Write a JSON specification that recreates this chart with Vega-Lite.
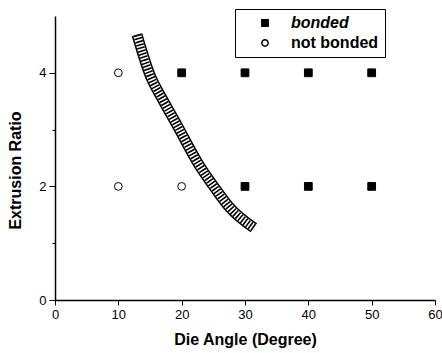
{
  "$schema": "https://vega.github.io/schema/vega-lite/v6.json",
  "width": 380,
  "height": 284,
  "autosize": {"type": "none"},
  "padding": {"left": 55, "top": 16, "right": 7, "bottom": 53},
  "background": "white",
  "config": {
    "view": {"stroke": null},
    "font": "Liberation Sans",
    "axis": {
      "grid": false,
      "domainColor": "black",
      "domainWidth": 1.5,
      "tickColor": "black",
      "tickWidth": 1,
      "labelColor": "black",
      "labelFont": "Liberation Sans",
      "labelFontSize": 13,
      "titleFont": "Liberation Sans",
      "titleFontSize": 16,
      "titleFontWeight": "bold",
      "titleColor": "black"
    }
  },
  "datasets": {
    "points": [
      {"angle": 10, "ratio": 4, "status": "not bonded"},
      {"angle": 10, "ratio": 2, "status": "not bonded"},
      {"angle": 20, "ratio": 2, "status": "not bonded"},
      {"angle": 20, "ratio": 4, "status": "bonded"},
      {"angle": 30, "ratio": 4, "status": "bonded"},
      {"angle": 40, "ratio": 4, "status": "bonded"},
      {"angle": 50, "ratio": 4, "status": "bonded"},
      {"angle": 30, "ratio": 2, "status": "bonded"},
      {"angle": 40, "ratio": 2, "status": "bonded"},
      {"angle": 50, "ratio": 2, "status": "bonded"}
    ],
    "band": [
      {"angle": 12.95, "ratio": 4.67},
      {"angle": 15.0, "ratio": 3.96},
      {"angle": 17.05, "ratio": 3.52},
      {"angle": 19.26, "ratio": 3.08},
      {"angle": 22.74, "ratio": 2.38},
      {"angle": 25.26, "ratio": 1.97},
      {"angle": 27.5, "ratio": 1.64},
      {"angle": 31.4, "ratio": 1.27}
    ]
  },
  "layer": [
    {
      "data": {"name": "band"},
      "mark": {"type": "line", "interpolate": "monotone", "color": "black", "strokeWidth": 11, "strokeCap": "butt"},
      "encoding": {
        "x": {"field": "angle", "type": "quantitative", "scale": {"domain": [0, 60]},
          "axis": {"title": "Die Angle (Degree)", "values": [0,5,10,15,20,25,30,35,40,45,50,55,60],
            "labelExpr": "datum.value % 10 == 0 ? datum.label : ''",
            "tickSize": {"condition": {"test": "datum.value % 10 == 0", "value": 5}, "value": 3},
            "labelPadding": 3, "titlePadding": 10, "labelFlush": false}},
        "y": {"field": "ratio", "type": "quantitative", "scale": {"domain": [0, 5]},
          "axis": {"title": "Extrusion Ratio", "values": [0,1,2,3,4], "format": "d",
            "labelExpr": "datum.value % 2 == 0 ? datum.label : ''",
            "tickSize": {"condition": {"test": "datum.value % 2 == 0", "value": 6}, "value": 3},
            "labelPadding": 3, "titlePadding": 15, "titleY": 154}},
        "order": {"field": "angle"}
      }
    },
    {
      "data": {"name": "band"},
      "mark": {"type": "line", "interpolate": "monotone", "color": "white", "strokeWidth": 8, "strokeCap": "butt"},
      "encoding": {
        "x": {"field": "angle", "type": "quantitative"},
        "y": {"field": "ratio", "type": "quantitative"},
        "order": {"field": "angle"}
      }
    },
    {
      "data": {"name": "band"},
      "mark": {"type": "line", "interpolate": "monotone", "color": "black", "strokeWidth": 8, "strokeCap": "butt", "strokeDash": [1.6, 1.6]},
      "encoding": {
        "x": {"field": "angle", "type": "quantitative"},
        "y": {"field": "ratio", "type": "quantitative"},
        "order": {"field": "angle"}
      }
    },
    {
      "data": {"name": "points"},
      "mark": {"type": "point", "filled": true, "stroke": "black", "strokeWidth": 1, "size": 60, "opacity": 1},
      "encoding": {
        "x": {"field": "angle", "type": "quantitative"},
        "y": {"field": "ratio", "type": "quantitative"},
        "shape": {"field": "status", "type": "nominal",
          "scale": {"domain": ["bonded", "not bonded"], "range": ["square", "circle"]},
          "legend": {
            "title": null, "orient": "none", "legendX": 180, "legendY": -7,
            "strokeColor": "black", "fillColor": "white", "padding": 6,
            "labelFont": "Liberation Sans", "labelFontSize": 16, "labelFontWeight": "bold", "labelColor": "black",
            "labelFontStyle": {"expr": "datum.label === 'bonded' ? 'italic' : 'normal'"},
            "symbolOffset": 16, "labelOffset": 18, "rowPadding": 4, "symbolSize": 40
          }},
        "fill": {"field": "status", "type": "nominal",
          "scale": {"domain": ["bonded", "not bonded"], "range": ["black", "white"]}}
      }
    }
  ]
}
